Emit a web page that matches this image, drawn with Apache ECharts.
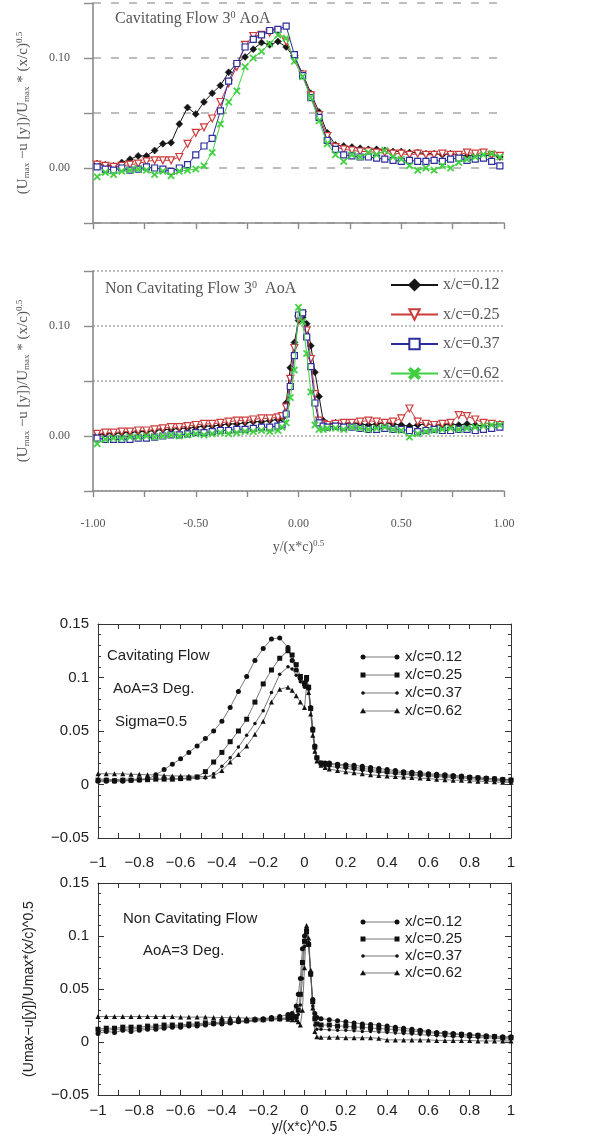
<!DOCTYPE html>
<html><head><meta charset="utf-8">
<script src="https://cdn.jsdelivr.net/npm/echarts@6/dist/echarts.min.js"></script>
<style>html,body{margin:0;padding:0;background:#fff}#c{width:595px;height:1141px}</style>
</head><body><div id="c"></div>
<script>
// ---------- DATA ----------
const LEGEND_NAMES = ['x/c=0.12', 'x/c=0.25', 'x/c=0.37', 'x/c=0.62'];

// Panel 1: experiment, cavitating flow
const X1 = [-0.98,-0.94,-0.90,-0.86,-0.82,-0.78,-0.74,-0.70,-0.66,-0.62,-0.58,-0.54,-0.50,-0.46,-0.42,-0.38,-0.34,-0.30,-0.26,-0.22,-0.18,-0.14,-0.10,-0.06,-0.02,0.02,0.06,0.10,0.14,0.18,0.22,0.26,0.30,0.34,0.38,0.42,0.46,0.50,0.54,0.58,0.62,0.66,0.70,0.74,0.78,0.82,0.86,0.90,0.94,0.98];
const E1_012 = [0.004,0.003,0.002,0.005,0.008,0.011,0.011,0.016,0.022,0.023,0.040,0.055,0.049,0.060,0.068,0.075,0.087,0.095,0.101,0.108,0.114,0.112,0.115,0.110,0.100,0.086,0.068,0.051,0.032,0.021,0.020,0.019,0.018,0.017,0.017,0.016,0.015,0.015,0.014,0.014,0.013,0.013,0.012,0.013,0.012,0.011,0.012,0.011,0.012,0.010];
const E1_025 = [0.003,0.002,0.001,0.002,0.003,0.004,0.006,0.007,0.007,0.007,0.010,0.022,0.032,0.037,0.045,0.060,0.077,0.092,0.112,0.120,0.121,0.123,0.124,0.115,0.099,0.085,0.066,0.048,0.029,0.019,0.017,0.016,0.015,0.015,0.014,0.014,0.013,0.013,0.012,0.013,0.012,0.012,0.013,0.012,0.012,0.014,0.013,0.014,0.012,0.011];
const E1_037 = [0.001,-0.001,-0.002,0.000,-0.002,-0.001,0.001,0.000,-0.001,-0.003,0.000,0.003,0.012,0.020,0.027,0.052,0.079,0.095,0.110,0.117,0.121,0.125,0.126,0.129,0.103,0.084,0.064,0.046,0.025,0.017,0.012,0.011,0.010,0.010,0.009,0.008,0.007,0.006,0.007,0.006,0.006,0.007,0.006,0.008,0.009,0.007,0.008,0.009,0.006,0.002];
const E1_062 = [-0.008,-0.004,-0.006,-0.003,-0.002,-0.001,-0.002,-0.006,-0.003,-0.007,-0.003,-0.002,-0.001,0.002,0.014,0.040,0.060,0.070,0.092,0.100,0.106,0.113,0.121,0.118,0.097,0.083,0.064,0.043,0.022,0.012,0.006,0.012,0.010,0.014,0.012,0.016,0.010,0.008,0.002,-0.002,0.000,-0.002,0.002,0.000,0.005,0.008,0.010,0.012,0.013,0.010];

// Panel 2: experiment, non cavitating flow
const X2 = [-0.98,-0.94,-0.90,-0.86,-0.82,-0.78,-0.74,-0.70,-0.66,-0.62,-0.58,-0.54,-0.50,-0.46,-0.42,-0.38,-0.34,-0.30,-0.26,-0.22,-0.18,-0.14,-0.10,-0.08,-0.06,-0.04,-0.02,0.00,0.02,0.04,0.06,0.08,0.10,0.12,0.14,0.18,0.22,0.26,0.30,0.34,0.38,0.42,0.46,0.50,0.54,0.58,0.62,0.66,0.70,0.74,0.78,0.82,0.86,0.90,0.94,0.98];
const E2_012 = [0.001,0.002,0.002,0.003,0.003,0.004,0.004,0.005,0.006,0.006,0.007,0.007,0.008,0.009,0.009,0.010,0.011,0.011,0.012,0.013,0.013,0.014,0.015,0.016,0.030,0.062,0.085,0.105,0.108,0.102,0.082,0.058,0.036,0.014,0.011,0.012,0.011,0.012,0.011,0.010,0.011,0.012,0.011,0.010,0.009,0.010,0.011,0.010,0.010,0.011,0.010,0.011,0.010,0.009,0.010,0.011];
const E2_025 = [0.002,0.003,0.003,0.004,0.004,0.005,0.005,0.006,0.007,0.008,0.008,0.009,0.010,0.011,0.011,0.012,0.013,0.014,0.014,0.015,0.016,0.016,0.017,0.018,0.026,0.052,0.080,0.106,0.110,0.096,0.070,0.038,0.014,0.011,0.010,0.011,0.012,0.012,0.013,0.014,0.013,0.012,0.013,0.016,0.025,0.013,0.011,0.010,0.011,0.012,0.019,0.018,0.015,0.012,0.011,0.010];
const E2_037 = [-0.002,-0.003,-0.003,-0.003,-0.003,-0.002,-0.002,-0.001,0.000,0.001,0.001,0.002,0.003,0.003,0.004,0.005,0.005,0.006,0.006,0.007,0.008,0.008,0.009,0.010,0.020,0.045,0.073,0.110,0.112,0.090,0.063,0.030,0.012,0.009,0.008,0.009,0.008,0.008,0.007,0.006,0.006,0.007,0.006,0.006,0.005,0.004,0.005,0.006,0.005,0.005,0.006,0.006,0.005,0.006,0.007,0.008];
const E2_062 = [-0.007,-0.003,-0.002,-0.002,-0.001,-0.001,0.000,-0.001,0.000,0.001,0.000,0.001,0.002,0.001,0.002,0.003,0.002,0.003,0.004,0.004,0.005,0.004,0.005,0.008,0.012,0.035,0.060,0.117,0.104,0.075,0.040,0.010,0.006,0.006,0.007,0.007,0.006,0.008,0.007,0.006,0.007,0.008,0.006,0.005,-0.001,0.002,0.004,0.005,0.006,0.007,0.006,0.007,0.008,0.009,0.010,0.010];

// Panel 3: simulation, cavitating flow
const X3 = [-1,-0.96,-0.92,-0.88,-0.84,-0.80,-0.76,-0.72,-0.68,-0.64,-0.60,-0.56,-0.52,-0.48,-0.44,-0.40,-0.36,-0.32,-0.28,-0.24,-0.20,-0.16,-0.12,-0.08,-0.06,-0.04,-0.02,0,0.01,0.02,0.03,0.04,0.05,0.06,0.08,0.10,0.12,0.16,0.20,0.24,0.28,0.32,0.36,0.40,0.44,0.48,0.52,0.56,0.60,0.64,0.68,0.72,0.76,0.80,0.84,0.88,0.92,0.96,1.0];
const S3_012 = [0.003,0.003,0.003,0.003,0.004,0.004,0.005,0.009,0.014,0.019,0.024,0.030,0.036,0.043,0.050,0.059,0.072,0.087,0.101,0.116,0.127,0.136,0.137,0.128,0.116,0.107,0.099,0.095,0.098,0.090,0.072,0.052,0.036,0.025,0.020,0.020,0.020,0.019,0.0185,0.018,0.017,0.016,0.015,0.014,0.013,0.012,0.0115,0.011,0.010,0.0095,0.009,0.0085,0.008,0.007,0.0065,0.006,0.0055,0.005,0.0045];
const S3_025 = [0.004,0.004,0.0035,0.004,0.004,0.0045,0.0045,0.005,0.005,0.005,0.0055,0.006,0.007,0.012,0.021,0.030,0.040,0.050,0.061,0.077,0.094,0.107,0.118,0.125,0.121,0.112,0.101,0.094,0.100,0.091,0.071,0.051,0.035,0.025,0.020,0.019,0.019,0.018,0.017,0.016,0.015,0.014,0.013,0.012,0.0115,0.011,0.010,0.0095,0.009,0.0085,0.008,0.0075,0.007,0.0065,0.006,0.0055,0.005,0.0045,0.004];
const S3_037 = [0.005,0.005,0.0045,0.005,0.005,0.005,0.0055,0.005,0.005,0.0055,0.005,0.0055,0.006,0.006,0.010,0.017,0.025,0.035,0.046,0.057,0.069,0.086,0.103,0.110,0.108,0.102,0.096,0.091,0.097,0.090,0.070,0.050,0.034,0.024,0.019,0.018,0.017,0.016,0.015,0.014,0.013,0.012,0.0115,0.011,0.010,0.0095,0.009,0.0085,0.008,0.0075,0.007,0.0065,0.006,0.0055,0.005,0.0045,0.004,0.0035,0.003];
const S3_062 = [0.010,0.010,0.010,0.010,0.0095,0.0095,0.009,0.009,0.0085,0.008,0.008,0.008,0.0075,0.0075,0.008,0.013,0.021,0.028,0.036,0.047,0.059,0.077,0.089,0.091,0.088,0.083,0.077,0.072,0.092,0.086,0.066,0.046,0.031,0.022,0.018,0.016,0.0145,0.013,0.012,0.011,0.010,0.009,0.0085,0.008,0.0075,0.007,0.0065,0.006,0.0055,0.005,0.0045,0.004,0.004,0.0035,0.003,0.003,0.0025,0.002,0.002];

// Panel 4: simulation, non cavitating flow
const X4 = [-1,-0.96,-0.92,-0.88,-0.84,-0.80,-0.76,-0.72,-0.68,-0.64,-0.60,-0.56,-0.52,-0.48,-0.44,-0.40,-0.36,-0.32,-0.28,-0.24,-0.20,-0.16,-0.12,-0.08,-0.06,-0.04,-0.03,-0.02,-0.01,0,0.01,0.02,0.03,0.04,0.05,0.06,0.08,0.12,0.16,0.20,0.24,0.28,0.32,0.36,0.40,0.44,0.48,0.52,0.56,0.60,0.64,0.68,0.72,0.76,0.80,0.84,0.88,0.92,0.96,1.0];
const S4_012 = [0.008,0.010,0.009,0.011,0.010,0.011,0.012,0.012,0.013,0.014,0.014,0.015,0.015,0.016,0.017,0.017,0.018,0.019,0.020,0.021,0.022,0.023,0.024,0.026,0.027,0.034,0.045,0.060,0.088,0.100,0.106,0.092,0.065,0.040,0.027,0.023,0.022,0.021,0.020,0.019,0.018,0.017,0.0165,0.016,0.015,0.014,0.013,0.012,0.011,0.010,0.009,0.0085,0.008,0.0075,0.007,0.0065,0.006,0.0055,0.005,0.005];
const S4_025 = [0.012,0.013,0.013,0.014,0.014,0.014,0.015,0.015,0.016,0.016,0.016,0.017,0.017,0.018,0.018,0.019,0.019,0.020,0.020,0.021,0.021,0.022,0.022,0.023,0.023,0.024,0.030,0.045,0.075,0.095,0.104,0.092,0.064,0.038,0.022,0.017,0.016,0.016,0.015,0.015,0.014,0.014,0.013,0.013,0.012,0.012,0.011,0.010,0.010,0.009,0.008,0.008,0.007,0.007,0.006,0.006,0.005,0.005,0.004,0.004];
const S4_037 = [0.011,0.011,0.012,0.012,0.012,0.013,0.013,0.014,0.014,0.015,0.015,0.016,0.016,0.017,0.017,0.018,0.018,0.019,0.019,0.020,0.020,0.021,0.021,0.022,0.022,0.022,0.026,0.035,0.060,0.090,0.106,0.094,0.063,0.034,0.016,0.012,0.012,0.0115,0.011,0.011,0.0105,0.010,0.010,0.0095,0.009,0.0085,0.008,0.0075,0.007,0.0065,0.006,0.0055,0.005,0.005,0.0045,0.004,0.004,0.0035,0.003,0.003];
const S4_062 = [0.024,0.024,0.024,0.024,0.024,0.024,0.024,0.024,0.024,0.024,0.0235,0.0235,0.0235,0.0235,0.023,0.023,0.023,0.023,0.0225,0.0225,0.022,0.022,0.022,0.0215,0.021,0.021,0.019,0.016,0.030,0.070,0.110,0.098,0.068,0.032,0.010,0.005,0.0045,0.0045,0.0045,0.004,0.004,0.004,0.004,0.0035,0.002,0.002,0.002,0.002,0.002,0.002,0.0015,0.0015,0.0015,0.0015,0.0015,0.001,0.001,0.001,0.001,0.001];

// ---------- STYLE / BUILD ----------
const zip = (xs, ys) => xs.map((x, i) => [x, ys[i]]);
const SERIF = '"Liberation Serif","DejaVu Serif",serif';
const SANS = '"Liberation Sans",Arial,sans-serif';
const XPATH = 'path://M0,1.4L1.4,0L5,3.6L8.6,0L10,1.4L6.4,5L10,8.6L8.6,10L5,6.4L1.4,10L0,8.6L3.6,5Z';

const expStyle = [
  {color:'#151515', symbol:'diamond', hollow:false, size:7, rot:0},
  {color:'#cc3b3b', symbol:'triangle', hollow:true, size:7, rot:180},
  {color:'#2c2c9c', symbol:'rect', hollow:true, size:6, rot:0},
  {color:'#3fcf3f', symbol:XPATH, hollow:false, size:7, rot:0}
];
const simStyle = [
  {symbol:'circle', size:5},
  {symbol:'rect', size:5},
  {symbol:'circle', size:3.5},
  {symbol:'triangle', size:5}
];

function expSeries(gi, xs, ysList) {
  return ysList.map((ys, i) => {
    const s = expStyle[i];
    return {
      type:'line', name: LEGEND_NAMES[i], xAxisIndex: gi, yAxisIndex: gi,
      data: zip(xs, ys), symbol: s.symbol, symbolSize: s.size, symbolRotate: s.rot,
      showAllSymbol: true,
      itemStyle: {color: s.hollow ? '#fff' : s.color, borderColor: s.color, borderWidth: s.hollow ? 1.2 : 0.5},
      lineStyle: {color: s.color, width: 1}, z: 3 + i
    };
  });
}
function simSeries(gi, xs, ysList, tag) {
  return ysList.map((ys, i) => {
    const s = simStyle[i];
    return {
      type:'line', name: LEGEND_NAMES[i] + ' ' + tag, xAxisIndex: gi, yAxisIndex: gi,
      data: zip(xs, ys), symbol: s.symbol, symbolSize: s.size, showAllSymbol: true,
      itemStyle: {color:'#111'}, lineStyle: {color:'#555', width: 0.8}
    };
  });
}

const fmtSans = v => { const r = Math.round(v * 100) / 100; if (r === 0) return '0'; return (r < 0 ? '\u2212' : '') + String(Math.abs(r)); };
const fmtExpY = v => Math.abs(v) < 1e-9 ? '0.00' : (Math.abs(v - 0.1) < 1e-9 ? '0.10' : '');
const fmtExpX = v => { const t = v * 2; return Math.abs(t - Math.round(t)) < 1e-6 ? (Math.abs(v) < 1e-9 ? '0.00' : v.toFixed(2)) : ''; };

const richSS = {
  s: {fontSize: 9, verticalAlign: 'bottom', padding: [6, 0, 0, 0]},
  p: {fontSize: 9, verticalAlign: 'top', padding: [0, 0, 7, 0]}
};

function expX(gi, showLabels) {
  return {
    gridIndex: gi, type:'value', min:-1, max:1, interval:0.25,
    axisLine: {show:true, onZero:false, lineStyle:{color:'#8a8a8a', width:1.6}},
    axisTick: {show:true, length:6, lineStyle:{color:'#8a8a8a', width:1.4}},
    axisLabel: {show: showLabels, formatter: fmtExpX, fontFamily: SERIF, fontSize: 12, color:'#555', margin: 27},
    splitLine: {show:false},
    name: showLabels ? 'y/(x*c){p|0.5}' : '', nameLocation:'middle', nameGap: 48,
    nameTextStyle: {fontFamily: SERIF, fontSize: 14, color:'#555', rich: richSS}
  };
}
function expY(gi, dashType) {
  return {
    gridIndex: gi, type:'value', min:-0.05, max:0.15, interval:0.05,
    axisLine: {show:true, onZero:false, lineStyle:{color:'#8a8a8a', width:1.6}},
    axisTick: {show:true, length:9, lineStyle:{color:'#8a8a8a', width:1.4}},
    axisLabel: {formatter: fmtExpY, fontFamily: SERIF, fontSize: 12, color:'#555', margin: 23},
    splitLine: {show:true, lineStyle:{color:'#a8a8a8', width:1.5, type: dashType}},
    name: '(U{s|max} \u2212u [y])/U{s|max} * (x/c){p|0.5}', nameLocation:'middle', nameGap: 62, nameRotate: 90,
    nameTextStyle: {fontFamily: SERIF, fontSize: 15, color:'#555', rich: richSS}
  };
}
function simX(gi, top, name, margin) {
  return {
    gridIndex: gi, type:'value', min:-1, max:1, interval:0.2, position: top ? 'top' : 'bottom',
    axisLine: {show:true, onZero:false, lineStyle:{color:'#333', width:1}},
    axisTick: {show:true, inside:true, length:5, lineStyle:{color:'#333', width:1}},
    minorTick: {show:true, splitNumber:2, length:5, lineStyle:{color:'#333', width:1}},
    axisLabel: {show: !top, formatter: fmtSans, fontFamily: SANS, fontSize: 15, color:'#222', margin: margin || 10},
    splitLine: {show:false},
    name: name || '', nameLocation:'middle', nameGap: 25,
    nameTextStyle: {fontFamily: SANS, fontSize: 14, color:'#222'}
  };
}
function simY(gi, right, name) {
  return {
    gridIndex: gi, type:'value', min:-0.05, max:0.15, interval:0.05, position: right ? 'right' : 'left',
    axisLine: {show:true, onZero:false, lineStyle:{color:'#333', width:1}},
    axisTick: {show:true, inside:true, length:6, lineStyle:{color:'#333', width:1}},
    minorTick: {show:true, splitNumber:5, length:3, lineStyle:{color:'#333', width:1}},
    axisLabel: {show: !right, formatter: fmtSans, fontFamily: SANS, fontSize: 15, color:'#222', margin: 9},
    splitLine: {show:false},
    name: name || '', nameLocation:'middle', nameGap: 62, nameRotate: 90,
    nameTextStyle: {fontFamily: SANS, fontSize: 14, color:'#222'}
  };
}

// legend graphics for simulation panels
function simLegend(rows) {
  const els = [];
  rows.forEach((y, i) => {
    els.push({type:'line', shape:{x1:363, y1:y, x2:397, y2:y}, style:{stroke:'#555', lineWidth:0.8}});
    [363, 397].forEach(x => {
      if (i === 0) els.push({type:'circle', shape:{cx:x, cy:y, r:2.5}, style:{fill:'#111'}});
      else if (i === 1) els.push({type:'rect', shape:{x:x-2.5, y:y-2.5, width:5, height:5}, style:{fill:'#111'}});
      else if (i === 2) els.push({type:'circle', shape:{cx:x, cy:y, r:1.8}, style:{fill:'#111'}});
      else els.push({type:'polygon', shape:{points:[[x, y-3], [x-3, y+2.2], [x+3, y+2.2]]}, style:{fill:'#111'}});
    });
    els.push({type:'text', style:{text: LEGEND_NAMES[i], x:405, y:y, fontSize:15, fontFamily:SANS, fill:'#222', verticalAlign:'middle', align:'left'}});
  });
  return els;
}

const titles = [
  {text:'Cavitating Flow 3{p|0} AoA', left:115, top:10},
  {text:'Non Cavitating Flow 3{p|0}  AoA', left:105, top:280},
].map(t => Object.assign(t, {padding:0, textStyle:{fontFamily:SERIF, fontSize:16, fontWeight:'normal', color:'#555', rich:{p:{fontSize:10, verticalAlign:'top', padding:[0,0,8,0]}}}}))
.concat([
  {text:'Cavitating Flow', left:107, top:648},
  {text:'AoA=3 Deg.', left:113, top:681},
  {text:'Sigma=0.5', left:115, top:714},
  {text:'Non Cavitating Flow', left:123, top:911},
  {text:'AoA=3 Deg.', left:143, top:943},
].map(t => Object.assign(t, {padding:0, textStyle:{fontFamily:SANS, fontSize:15, fontWeight:'normal', color:'#222'}})));

const option = {
  animation: false,
  backgroundColor: '#fff',
  title: titles,
  grid: [
    {left:93, top:3, width:411, height:220},
    {left:93, top:271, width:411, height:220},
    {left:98, top:624, width:413, height:214},
    {left:98, top:883, width:413, height:212}
  ],
  xAxis: [expX(0, false), expX(1, true), simX(2, false, '', 17), simX(3, false, 'y/(x*c)^0.5', 8), simX(2, true), simX(3, true)],
  yAxis: [expY(0, [8, 10]), expY(1, [2, 2]), simY(2, false), simY(3, false, '(Umax\u2212u[y])/Umax*(x/c)^0.5'), simY(2, true), simY(3, true)],
  legend: {
    show: true, orient:'vertical', left:390, top:277, padding:0, itemWidth:47, itemHeight:13, itemGap:13.5,
    selectedMode:false, data: LEGEND_NAMES,
    textStyle: {fontFamily: SERIF, fontSize: 16, color:'#555'}
  },
  graphic: simLegend([657, 675, 693, 711]).concat(simLegend([922, 939, 956, 973])),
  series: [].concat(
    expSeries(0, X1, [E1_012, E1_025, E1_037, E1_062]),
    expSeries(1, X2, [E2_012, E2_025, E2_037, E2_062]),
    simSeries(2, X3, [S3_012, S3_025, S3_037, S3_062], '(cavitating)'),
    simSeries(3, X4, [S4_012, S4_025, S4_037, S4_062], '(non cavitating)')
  )
};
const chart = echarts.init(document.getElementById('c'), null, {renderer:'canvas'});
chart.setOption(option);
</script></body></html>
